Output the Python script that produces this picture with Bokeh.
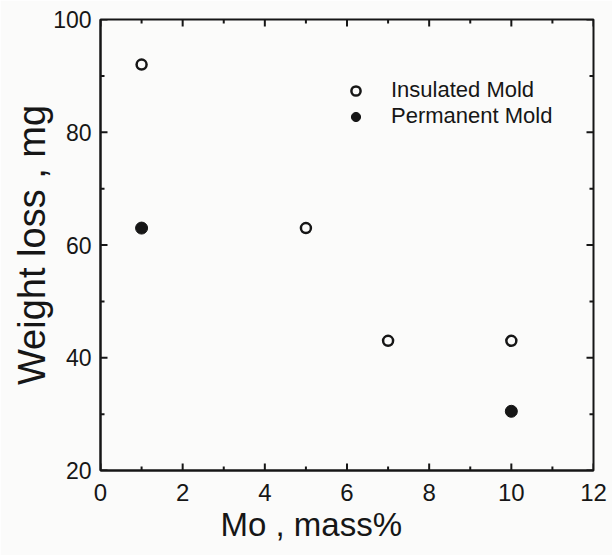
import math
from bokeh.plotting import figure
from bokeh.models import (Range1d, SingleIntervalTicker, Legend, LegendItem,
                          ColumnDataSource, Title)
from bokeh.embed import file_html
from bokeh.resources import INLINE

# Weight loss vs. Mo content for two mold types
mo_insulated = [1, 5, 7, 10]
loss_insulated = [92, 63, 43, 43]
mo_permanent = [1, 10]
loss_permanent = [63, 30.5]

# axis limits and tick positions
x_lim = [0, 12]
y_lim = [20, 100]
x_major = [0, 2, 4, 6, 8, 10, 12]
x_minor = [1, 3, 5, 7, 9, 11]
y_major = [20, 40, 60, 80, 100]
y_minor = [30, 50, 70, 90]

INK = "#161616"
FONT = "Liberation Sans"
BG = "#fbfbfa"

p = figure(width=612, height=555, output_backend="svg", toolbar_location=None,
           x_range=Range1d(*x_lim), y_range=Range1d(*y_lim),
           min_border_left=100, min_border_right=19, min_border_top=19, min_border_bottom=85,
           background_fill_color=BG, border_fill_color=BG,
           outline_line_color=INK, outline_line_width=2)
p.grid.visible = False

src_ins = ColumnDataSource(dict(x=mo_insulated, y=loss_insulated))
src_per = ColumnDataSource(dict(x=mo_permanent, y=loss_permanent))
r_ins = p.scatter("x", "y", source=src_ins, marker="circle", size=10,
                  fill_color=None, line_color=INK, line_width=2.5)
r_per = p.scatter("x", "y", source=src_per, marker="circle", size=12,
                  fill_color=INK, line_color=INK, line_width=1)


# inward tick marks on all four frame edges, drawn as short screen-length rays
def edge_ticks(xs, ys, angle, length):
    p.ray(xs, ys, length=length, length_units="screen", angle=angle,
          line_color=INK, line_width=2)


for ticks, length in ((x_major, 7), (x_minor, 4)):
    edge_ticks(ticks, [y_lim[0]] * len(ticks), math.pi / 2, length)
    edge_ticks(ticks, [y_lim[1]] * len(ticks), -math.pi / 2, length)
for ticks, length in ((y_major, 7), (y_minor, 4)):
    edge_ticks([x_lim[0]] * len(ticks), ticks, 0, length)
    edge_ticks([x_lim[1]] * len(ticks), ticks, math.pi, length)

xb = p.xaxis[0]
xb.ticker = SingleIntervalTicker(interval=2, num_minor_ticks=2)
yl = p.yaxis[0]
yl.ticker = SingleIntervalTicker(interval=20, num_minor_ticks=2)
for ax in (xb, yl):
    ax.axis_line_color = INK
    ax.axis_line_width = 2
    ax.major_tick_line_color = None
    ax.minor_tick_line_color = None
    ax.major_tick_in = 0
    ax.major_tick_out = 0
    ax.minor_tick_in = 0
    ax.minor_tick_out = 0
    ax.major_label_text_font = FONT
    ax.major_label_text_color = INK
    ax.axis_label_text_font = FONT
    ax.axis_label_text_color = INK
    ax.axis_label_text_font_style = "normal"

xb.major_label_text_font_size = "24px"
xb.major_label_standoff = 13

yl.major_label_text_font_size = "23px"
yl.major_label_standoff = 9
yl.axis_label = "Weight loss , mg"
yl.axis_label_text_font_size = "38px"
yl.axis_label_standoff = -3

# x-axis title, starting a little right of the frame's left edge
p.add_layout(Title(text="Mo , mass%", align="left", offset=120, standoff=0,
                   text_font=FONT, text_font_size="33px", text_font_style="normal",
                   text_color=INK), "below")

legend = Legend(items=[LegendItem(label="Insulated Mold", renderers=[r_ins]),
                       LegendItem(label="Permanent Mold", renderers=[r_per])],
                location=(242, 341), orientation="vertical",
                background_fill_alpha=0, border_line_color=None,
                label_text_font=FONT, label_text_font_size="22px", label_text_color=INK,
                glyph_width=27, glyph_height=23, label_height=23,
                label_standoff=22, spacing=0, padding=0, margin=0)
p.add_layout(legend, "center")

open("out.html", "w").write(file_html(p, INLINE))
